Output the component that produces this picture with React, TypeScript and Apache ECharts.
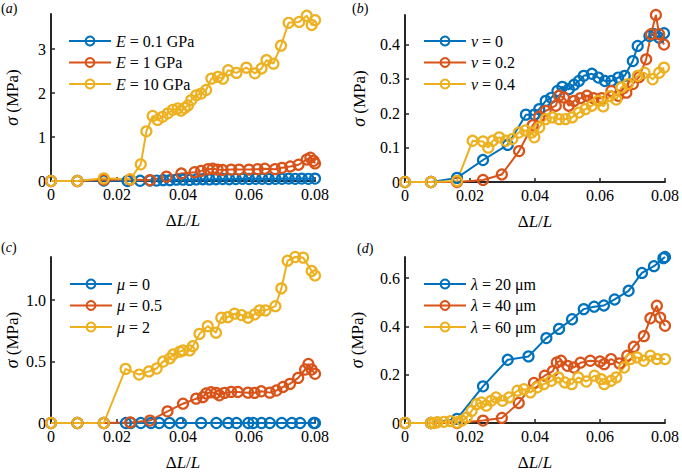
import React, { useEffect, useRef } from "react";
import * as echarts from "echarts";

// ---------- colours / fonts ----------
const BLUE = "#0072BD";
const RED = "#D95319";
const YELLOW = "#EDB120";
const AXIS = "#262626";
const FONT = "Liberation Serif";

// ---------- tick values ----------
const xTicks = [0, 0.02, 0.04, 0.06, 0.08];
const aYTicks = [0, 1, 2, 3];
const bYTicks = [0, 0.1, 0.2, 0.3, 0.4];
const cYTicks = [0, 0.5, 1.0];
const dYTicks = [0, 0.2, 0.4, 0.6];

// ---------- legend names ----------
const aNames = ["E = 0.1 GPa", "E = 1 GPa", "E = 10 GPa"];
const bNames = ["ν = 0", "ν = 0.2", "ν = 0.4"];
const cNames = ["μ = 0", "μ = 0.5", "μ = 2"];
const dNames = ["λ = 20 μm", "λ = 40 μm", "λ = 60 μm"];

// ---------- panel (a) ----------
const aBlueX = [0, 0.008, 0.016, 0.0232, 0.027, 0.03, 0.032, 0.034, 0.036, 0.038, 0.04, 0.042, 0.044, 0.046, 0.048, 0.05, 0.052, 0.054, 0.056, 0.058, 0.06, 0.062, 0.064, 0.066, 0.068, 0.07, 0.072, 0.074, 0.076, 0.078, 0.08];
const aBlueY = [0, 0, 0.01, 0, 0.005, 0.01, 0.01, 0.02, 0.02, 0.03, 0.03, 0.025, 0.035, 0.04, 0.035, 0.04, 0.045, 0.04, 0.045, 0.05, 0.045, 0.05, 0.05, 0.045, 0.05, 0.05, 0.055, 0.05, 0.055, 0.05, 0.055];
const aRedX = [0, 0.008, 0.016, 0.024, 0.03, 0.035, 0.0395, 0.0435, 0.0455, 0.0476, 0.049, 0.0505, 0.052, 0.0546, 0.057, 0.06, 0.0626, 0.0648, 0.0679, 0.07, 0.0725, 0.075, 0.0775, 0.0786, 0.0796, 0.08];
const aRedY = [0, 0, 0.03, 0.03, 0.02, 0.1, 0.17, 0.2, 0.23, 0.27, 0.28, 0.26, 0.25, 0.26, 0.26, 0.26, 0.27, 0.28, 0.27, 0.3, 0.33, 0.37, 0.49, 0.53, 0.46, 0.4];
const aYelX = [0, 0.008, 0.016, 0.024, 0.0272, 0.0289, 0.0308, 0.0323, 0.0338, 0.0354, 0.0369, 0.0384, 0.0394, 0.0405, 0.0415, 0.0425, 0.044, 0.0455, 0.047, 0.0486, 0.0506, 0.0521, 0.0537, 0.0562, 0.0592, 0.0618, 0.0638, 0.0653, 0.0674, 0.0697, 0.072, 0.0752, 0.0775, 0.079, 0.08];
const aYelY = [0, 0, 0.06, 0.04, 0.38, 1.13, 1.48, 1.39, 1.46, 1.54, 1.62, 1.65, 1.6, 1.66, 1.72, 1.84, 1.95, 1.99, 2.07, 2.33, 2.37, 2.33, 2.52, 2.46, 2.58, 2.45, 2.56, 2.75, 2.67, 3.08, 3.6, 3.62, 3.76, 3.55, 3.66];

// ---------- panel (b) ----------
const bBlueX = [0, 0.008, 0.016, 0.024, 0.0316, 0.0372, 0.0398, 0.0413, 0.0433, 0.045, 0.0469, 0.0484, 0.0504, 0.052, 0.0535, 0.055, 0.0575, 0.0595, 0.0615, 0.0635, 0.0656, 0.0676, 0.0701, 0.0716, 0.0752, 0.0767, 0.0782, 0.0797];
const bBlueY = [0, 0, 0.012, 0.064, 0.108, 0.196, 0.196, 0.212, 0.236, 0.245, 0.265, 0.277, 0.27, 0.283, 0.294, 0.309, 0.315, 0.304, 0.294, 0.294, 0.304, 0.309, 0.352, 0.396, 0.425, 0.43, 0.42, 0.433];
const bRedX = [0, 0.008, 0.016, 0.024, 0.0298, 0.0351, 0.0393, 0.0413, 0.0433, 0.0464, 0.0474, 0.0489, 0.0504, 0.052, 0.054, 0.056, 0.058, 0.0605, 0.0635, 0.0656, 0.0681, 0.0701, 0.072, 0.0742, 0.0757, 0.0772, 0.0782, 0.0797];
const bRedY = [0, 0, 0, 0.006, 0.022, 0.09, 0.165, 0.19, 0.207, 0.222, 0.251, 0.246, 0.222, 0.236, 0.244, 0.251, 0.244, 0.244, 0.265, 0.251, 0.26, 0.285, 0.305, 0.357, 0.43, 0.486, 0.43, 0.4];
const bYelX = [0, 0.008, 0.016, 0.0208, 0.024, 0.0256, 0.027, 0.029, 0.031, 0.033, 0.035, 0.037, 0.039, 0.0398, 0.0413, 0.0433, 0.0453, 0.0474, 0.0494, 0.0514, 0.0535, 0.0555, 0.0575, 0.0595, 0.061, 0.063, 0.065, 0.0666, 0.0686, 0.0716, 0.0737, 0.0762, 0.0782, 0.0797];
const bYelY = [0, 0, 0.003, 0.12, 0.118, 0.1, 0.12, 0.13, 0.12, 0.125, 0.144, 0.15, 0.144, 0.13, 0.159, 0.183, 0.188, 0.183, 0.183, 0.188, 0.202, 0.212, 0.222, 0.236, 0.22, 0.25, 0.24, 0.275, 0.285, 0.309, 0.318, 0.299, 0.318, 0.333];

// ---------- panel (c) ----------
const cBlueX = [0, 0.008, 0.016, 0.0227, 0.0242, 0.0272, 0.0303, 0.0328, 0.0359, 0.0394, 0.0455, 0.0501, 0.0537, 0.0562, 0.0598, 0.0613, 0.0638, 0.0663, 0.0699, 0.073, 0.0755, 0.0796, 0.08];
const cBlueY = [0, 0, 0, 0, 0, 0, 0, 0, 0, 0, 0, 0, 0, 0, 0, 0, 0, 0, 0, 0, 0, 0, 0];
const cRedX = [0, 0.008, 0.016, 0.024, 0.03, 0.0353, 0.04, 0.044, 0.046, 0.047, 0.0485, 0.05, 0.051, 0.0526, 0.0546, 0.0566, 0.0597, 0.0617, 0.0637, 0.0663, 0.0683, 0.0703, 0.0724, 0.0749, 0.077, 0.078, 0.079, 0.08];
const cRedY = [0, 0, 0, 0.005, 0.02, 0.095, 0.157, 0.198, 0.21, 0.24, 0.25, 0.245, 0.225, 0.245, 0.253, 0.253, 0.247, 0.245, 0.258, 0.247, 0.264, 0.293, 0.318, 0.367, 0.435, 0.48, 0.435, 0.4];
const cYelX = [0, 0.008, 0.016, 0.0226, 0.0267, 0.0297, 0.032, 0.034, 0.036, 0.037, 0.039, 0.04, 0.042, 0.043, 0.045, 0.0475, 0.05, 0.0516, 0.0536, 0.0556, 0.0577, 0.0597, 0.0617, 0.0632, 0.065, 0.068, 0.0698, 0.0717, 0.074, 0.0764, 0.079, 0.08];
const cYelY = [0, 0, 0, 0.44, 0.394, 0.42, 0.443, 0.5, 0.525, 0.557, 0.58, 0.59, 0.59, 0.625, 0.725, 0.788, 0.734, 0.856, 0.861, 0.889, 0.878, 0.856, 0.883, 0.916, 0.916, 0.95, 1.095, 1.32, 1.35, 1.345, 1.236, 1.2];

// ---------- panel (d) ----------
const dBlueX = [0, 0.008, 0.016, 0.024, 0.0316, 0.038, 0.0435, 0.0474, 0.0514, 0.055, 0.0582, 0.0612, 0.0645, 0.0688, 0.0729, 0.0766, 0.0795, 0.08];
const dBlueY = [0, 0, 0.017, 0.152, 0.262, 0.276, 0.352, 0.39, 0.43, 0.472, 0.482, 0.487, 0.512, 0.548, 0.622, 0.65, 0.683, 0.688];
const dRedX = [0, 0.008, 0.016, 0.024, 0.0298, 0.035, 0.0397, 0.043, 0.0455, 0.0467, 0.048, 0.05, 0.052, 0.054, 0.057, 0.06, 0.0613, 0.0634, 0.066, 0.0684, 0.0704, 0.0735, 0.0755, 0.0775, 0.0785, 0.08];
const dRedY = [0, 0, 0, 0.01, 0.021, 0.083, 0.166, 0.196, 0.215, 0.251, 0.258, 0.237, 0.23, 0.25, 0.258, 0.255, 0.244, 0.265, 0.247, 0.279, 0.316, 0.36, 0.434, 0.486, 0.437, 0.403];
const dYelX = [0, 0.008, 0.009, 0.01, 0.012, 0.014, 0.016, 0.0175, 0.019, 0.0205, 0.022, 0.0235, 0.025, 0.0265, 0.028, 0.03, 0.032, 0.0346, 0.0366, 0.0386, 0.0407, 0.0427, 0.045, 0.0472, 0.0492, 0.0513, 0.0533, 0.0558, 0.0583, 0.0603, 0.0613, 0.0634, 0.065, 0.0674, 0.0694, 0.0714, 0.0735, 0.0755, 0.0775, 0.08];
const dYelY = [0, 0, 0, 0.003, 0.005, 0.008, 0.002, 0.01, 0.023, 0.05, 0.078, 0.085, 0.072, 0.092, 0.106, 0.092, 0.106, 0.134, 0.14, 0.127, 0.148, 0.161, 0.175, 0.189, 0.168, 0.161, 0.189, 0.172, 0.196, 0.182, 0.161, 0.175, 0.189, 0.23, 0.265, 0.272, 0.258, 0.279, 0.265, 0.265];

const pairs = (xs: number[], ys: number[]) => xs.map((x, i) => [x, ys[i]]);

const legendRich: Record<string, string> = {
  "E = 0.1 GPa": "{i|E} = 0.1 GPa",
  "E = 1 GPa": "{i|E} = 1 GPa",
  "E = 10 GPa": "{i|E} = 10 GPa",
  "ν = 0": "{i|ν} = 0",
  "ν = 0.2": "{i|ν} = 0.2",
  "ν = 0.4": "{i|ν} = 0.4",
  "μ = 0": "{i|μ} = 0",
  "μ = 0.5": "{i|μ} = 0.5",
  "μ = 2": "{i|μ} = 2",
  "λ = 20 μm": "{i|λ} = 20 μm",
  "λ = 40 μm": "{i|λ} = 40 μm",
  "λ = 60 μm": "{i|λ} = 60 μm",
};

const richStyles = {
  i: { fontStyle: "italic", fontFamily: FONT, fontSize: 16, color: "#000", lineHeight: 15 },
  n: { fontFamily: FONT, fontSize: 16, color: "#000", lineHeight: 15 },
};

function buildOption() {
  const grids = [
    { left: 51, top: 14, width: 264, height: 167 },
    { left: 405, top: 15, width: 263, height: 167 },
    { left: 51, top: 257, width: 264, height: 166 },
    { left: 405, top: 257, width: 263, height: 166 },
  ];
  const yMax = [3.8, 0.486, 1.35, 0.688];
  const yTicks = [aYTicks, bYTicks, cYTicks, dYTicks];
  const yFmt = [
    (v: number) => String(v),
    (v: number) => (v === 0 ? "0" : v.toFixed(1)),
    (v: number) => (v === 0 ? "0" : v.toFixed(1)),
    (v: number) => (v === 0 ? "0" : v.toFixed(1)),
  ];
  const yNameGap = [30, 37, 30, 39];
  const names = [aNames, bNames, cNames, dNames];
  const data = [
    [pairs(aBlueX, aBlueY), pairs(aRedX, aRedY), pairs(aYelX, aYelY)],
    [pairs(bBlueX, bBlueY), pairs(bRedX, bRedY), pairs(bYelX, bYelY)],
    [pairs(cBlueX, cBlueY), pairs(cRedX, cRedY), pairs(cYelX, cYelY)],
    [pairs(dBlueX, dBlueY), pairs(dRedX, dRedY), pairs(dYelX, dYelY)],
  ];
  const legendPos = [
    { left: 68, top: 33 },
    { left: 423, top: 33 },
    { left: 69, top: 276 },
    { left: 423, top: 276 },
  ];
  const colors = [BLUE, RED, YELLOW];

  const xAxis = grids.map((_, i) => ({
    type: "value",
    gridIndex: i,
    min: 0,
    max: 0.08,
    axisLine: { show: true, onZero: false, lineStyle: { color: AXIS, width: 2 } },
    axisTick: { show: true, inside: true, length: 4, customValues: xTicks, lineStyle: { color: AXIS, width: 1.5 } },
    axisLabel: {
      customValues: xTicks,
      formatter: (v: number) => (v === 0 ? "0" : v.toFixed(2)),
      color: "#000",
      fontFamily: FONT,
      fontSize: 16,
      margin: 5,
    },
    splitLine: { show: false },
    name: "{n|Δ}{i|L}{n|/}{i|L}",
    nameLocation: "middle",
    nameGap: 31,
    nameTextStyle: { fontFamily: FONT, fontSize: 17, color: "#000", rich: {
      i: { fontStyle: "italic", fontFamily: FONT, fontSize: 17, color: "#000" },
      n: { fontFamily: FONT, fontSize: 17, color: "#000" },
    } },
  }));

  const yAxis = grids.map((_, i) => ({
    type: "value",
    gridIndex: i,
    min: 0,
    max: yMax[i],
    axisLine: { show: true, onZero: false, lineStyle: { color: AXIS, width: 2 } },
    axisTick: { show: true, inside: true, length: 4, customValues: yTicks[i], lineStyle: { color: AXIS, width: 1.5 } },
    axisLabel: {
      customValues: yTicks[i],
      formatter: yFmt[i],
      color: "#000",
      fontFamily: FONT,
      fontSize: 16,
      margin: 5,
    },
    splitLine: { show: false },
    name: "{i|σ}{n| (MPa)}",
    nameLocation: "middle",
    nameRotate: 90,
    nameGap: yNameGap[i],
    nameTextStyle: { fontFamily: FONT, fontSize: 17, color: "#000", rich: {
      i: { fontStyle: "italic", fontFamily: FONT, fontSize: 18, color: "#000" },
      n: { fontFamily: FONT, fontSize: 17, color: "#000" },
    } },
  }));

  const series: any[] = [];
  data.forEach((panel, p) => {
    panel.forEach((d, s) => {
      series.push({
        type: "line",
        name: names[p][s],
        xAxisIndex: p,
        yAxisIndex: p,
        data: d,
        symbol: "circle",
        symbolSize: 10,
        showAllSymbol: true,
        clip: false,
        lineStyle: { color: colors[s], width: 2 },
        itemStyle: { color: "rgba(255,255,255,0)", borderColor: colors[s], borderWidth: 2.2 },
        emphasis: { disabled: true },
      });
    });
  });

  const legend = names.map((nm, p) => ({
    show: true,
    orient: "vertical",
    left: legendPos[p].left,
    top: legendPos[p].top,
    data: nm,
    itemWidth: 42,
    itemHeight: 11,
    itemGap: 5.5,
    selectedMode: false,
    padding: 0,
    formatter: (name: string) => legendRich[name] || name,
    textStyle: { fontFamily: FONT, fontSize: 16, color: "#000", lineHeight: 15, rich: richStyles },
  }));

  const panelLabel = (letter: string, x: number, y: number) => ({
    type: "text",
    left: x,
    top: y,
    style: {
      text: "({i|" + letter + "})",
      fontFamily: FONT,
      fontSize: 14,
      fill: "#000",
      rich: { i: { fontStyle: "italic", fontFamily: FONT, fontSize: 14, fill: "#000" } },
    },
  });

  return {
    animation: false,
    backgroundColor: "#fff",
    grid: grids.map((g) => ({ ...g, containLabel: false })),
    xAxis,
    yAxis,
    legend,
    series,
    graphic: [
      panelLabel("a", 1, 1),
      panelLabel("b", 352, 1),
      panelLabel("c", 1, 240),
      panelLabel("d", 357, 241),
    ],
  };
}

export default function App() {
  const ref = useRef<HTMLDivElement>(null);
  useEffect(() => {
    if (!ref.current) return;
    const chart = echarts.init(ref.current, undefined, { renderer: "svg" });
    chart.setOption(buildOption() as any);
    return () => chart.dispose();
  }, []);
  return (
    <div
      ref={ref}
      style={{ position: "fixed", left: 0, top: 0, width: 682, height: 476, background: "#fff" }}
    />
  );
}
